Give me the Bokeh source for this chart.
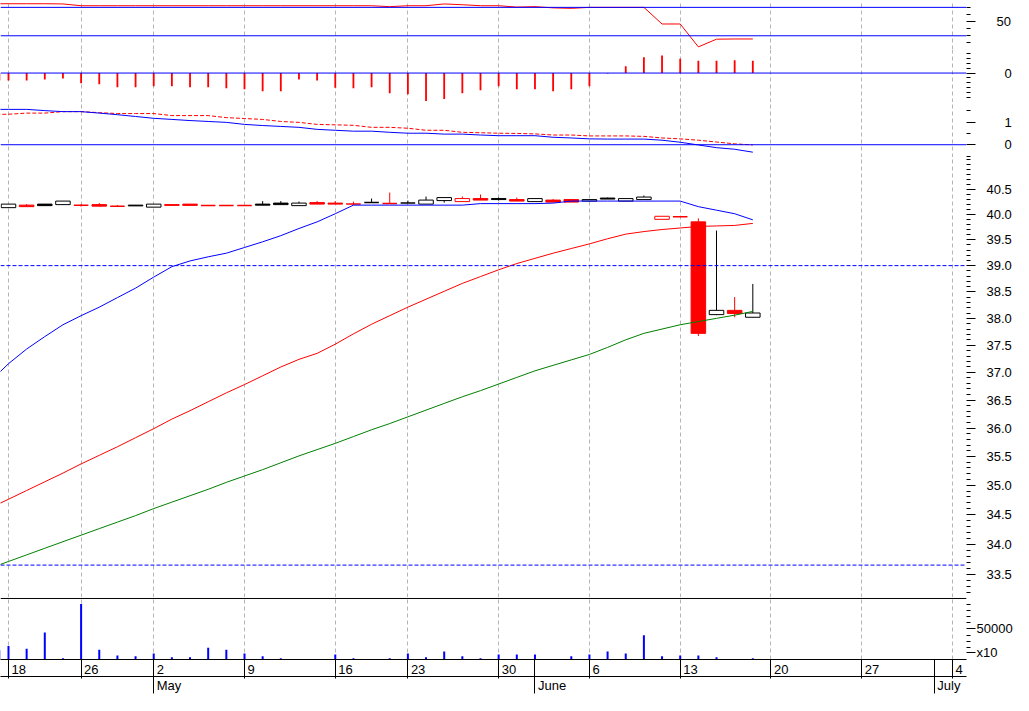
import numpy as np
from bokeh.plotting import figure
from bokeh.layouts import column
from bokeh.models import (Range1d, LinearAxis, LogAxis, FixedTicker, Span,
                          NumeralTickFormatter, ColumnDataSource)
from bokeh.embed import file_html
from bokeh.resources import INLINE

# ---------------- data ----------------
# trading-day index: -1 = Fri 15 Apr 2011 (just left of view), 0 = Mon 18 Apr ... 41 = Fri 17 Jun 2011
day_index = list(range(-1, 42))

open_ = [40.15, 40.13, 40.18, 40.20, 40.19, 40.18, 40.19, 40.16, 40.18, 40.14,
         40.19, 40.20, 40.175, 40.175, 40.175, 40.20, 40.22, 40.17, 40.23, 40.22,
         40.20, 40.23, 40.21, 40.22, 40.20, 40.27, 40.25, 40.31, 40.31, 40.29,
         40.25, 40.28, 40.29, 40.26, 40.32, 40.26, 40.29, 39.90, 39.95, 39.85,
         38.07, 38.15, 38.02]
high = [40.17, 40.20, 40.20, 40.20, 40.26, 40.20, 40.22, 40.18, 40.18, 40.20,
        40.20, 40.20, 40.175, 40.175, 40.175, 40.26, 40.26, 40.25, 40.26, 40.26,
        40.25, 40.31, 40.43, 40.27, 40.35, 40.33, 40.35, 40.39, 40.33, 40.33,
        40.31, 40.30, 40.29, 40.29, 40.33, 40.31, 40.37, 39.96, 39.95, 39.92,
        39.68, 38.40, 38.65]
low = [40.13, 40.13, 40.15, 40.17, 40.19, 40.15, 40.16, 40.16, 40.165, 40.14,
       40.175, 40.175, 40.175, 40.175, 40.175, 40.18, 40.19, 40.17, 40.20, 40.20,
       40.18, 40.23, 40.21, 40.22, 40.20, 40.23, 40.25, 40.28, 40.27, 40.26,
       40.25, 40.24, 40.24, 40.26, 40.30, 40.26, 40.29, 39.90, 39.95, 37.67,
       38.06, 38.02, 38.02]
close = [40.15, 40.20, 40.15, 40.17, 40.26, 40.18, 40.16, 40.16, 40.165, 40.20,
         40.175, 40.175, 40.175, 40.175, 40.175, 40.18, 40.19, 40.22, 40.20, 40.20,
         40.20, 40.23, 40.21, 40.22, 40.28, 40.33, 40.31, 40.28, 40.29, 40.26,
         40.31, 40.24, 40.24, 40.29, 40.30, 40.31, 40.34, 39.96, 39.95, 37.72,
         38.15, 38.09, 38.10]

ma_fast = [36.84, 37.16, 37.43, 37.66, 37.88, 38.05, 38.21, 38.39, 38.57, 38.78,
           38.98, 39.09, 39.17, 39.24, 39.35, 39.46, 39.58, 39.72, 39.85, 40.01,
           40.18, 40.18, 40.18, 40.18, 40.18, 40.18, 40.18, 40.21, 40.21, 40.21,
           40.21, 40.22, 40.26, 40.26, 40.26, 40.26, 40.26, 40.26, 40.26, 40.15,
           40.08, 40.01, 39.89]
ma_mid = [34.61, 34.76, 34.91, 35.06, 35.21, 35.37, 35.52, 35.67, 35.83, 35.99,
          36.16, 36.31, 36.47, 36.63, 36.78, 36.94, 37.10, 37.24, 37.35, 37.52,
          37.71, 37.89, 38.05, 38.21, 38.36, 38.51, 38.66, 38.79, 38.92, 39.04,
          39.14, 39.24, 39.33, 39.42, 39.52, 39.61, 39.66, 39.70, 39.73, 39.76,
          39.77, 39.78, 39.82]
ma_slow = [33.60, 33.71, 33.82, 33.93, 34.04, 34.15, 34.26, 34.37, 34.48, 34.60,
           34.71, 34.82, 34.93, 35.05, 35.16, 35.27, 35.39, 35.51, 35.62, 35.73,
           35.85, 35.97, 36.08, 36.20, 36.32, 36.44, 36.56, 36.67, 36.79, 36.91,
           37.03, 37.13, 37.23, 37.33, 37.46, 37.60, 37.72, 37.80, 37.88, 37.94,
           38.00, 38.06, 38.13]

rsi = [75.1, 75.1, 75.1, 75.1, 74.8, 72.3, 72.3, 72.3, 72.3, 72.3,
       72.3, 72.3, 72.3, 72.3, 72.3, 72.3, 72.3, 72.3, 72.3, 72.3,
       72.3, 72.3, 71.0, 72.3, 72.3, 74.8, 73.7, 72.3, 72.3, 70.4,
       71.0, 69.3, 68.6, 70.0, 70.0, 70.0, 70.0, 46.6, 46.6, 14.4,
       25.2, 25.5, 25.5]

macd = [1.565, 1.565, 1.565, 1.51, 1.465, 1.465, 1.40, 1.33, 1.25, 1.17,
        1.12, 1.07, 1.03, 0.99, 0.90, 0.85, 0.81, 0.77, 0.68, 0.64,
        0.60, 0.60, 0.55, 0.51, 0.51, 0.47, 0.47, 0.43, 0.40, 0.40,
        0.40, 0.33, 0.30, 0.26, 0.25, 0.25, 0.25, 0.20, 0.11, -0.01,
        -0.13, -0.20, -0.33]
macd_signal = [1.34, 1.35, 1.40, 1.40, 1.465, 1.465, 1.42, 1.38, 1.38, 1.38,
               1.29, 1.29, 1.29, 1.20, 1.16, 1.12, 1.03, 0.99, 0.90, 0.88,
               0.86, 0.77, 0.77, 0.73, 0.64, 0.64, 0.55, 0.53, 0.51, 0.50,
               0.48, 0.43, 0.43, 0.39, 0.39, 0.39, 0.37, 0.30, 0.26, 0.20,
               0.12, 0.04, -0.01]
histogram = [-0.015, -0.015, -0.015, -0.013, -0.011, -0.021, -0.023, -0.029, -0.029, -0.027,
             -0.027, -0.029, -0.029, -0.031, -0.033, -0.037, -0.037, -0.013, -0.015, -0.030,
             -0.031, -0.029, -0.041, -0.043, -0.057, -0.053, -0.041, -0.035, -0.027, -0.033,
             -0.033, -0.037, -0.033, -0.027, -0.001, 0.014, 0.032, 0.036, 0.029, 0.025,
             0.025, 0.026, 0.025]

volume = [15000, 22300, 17700, 44200, 2000, 91100, 16100, 6700, 5200, 9800,
          3600, 3600, 19200, 16100, 9800, 5200, 2000, 0, 0, 8300,
          2000, 0, 2000, 9800, 3600, 13000, 5200, 2000, 8300, 8300,
          8300, 0, 5200, 8300, 13000, 9800, 39600, 5200, 6700, 6700,
          3600, 0, 2000]
volume_multiplier_label = "x10"

# axis labels (first session of each week / month, as trading-day index)
week_labels = ["18", "26", "2", "9", "16", "23", "30", "6", "13", "20", "27", "4"]
week_days = [0, 4, 8, 13, 18, 22, 27, 32, 37, 42, 47, 52]
month_labels = ["May", "June", "July"]
month_days = [8, 29, 51]

price_levels = [39.0, 33.65]
rsi_levels = [70, 30]

# ---------------- style / layout ----------------
FONT = "Liberation Sans"
RED, BLUE, GREEN, BLACK = "#ff0000", "#0000ff", "#008000", "#000000"
GRID = "#b4b4b4"
FW = 966          # frame width
RB = 47           # right border for axes
X0, X1 = -0.44, 52.77
PX = FW / (X1 - X0)
BODY_W = 0.8
TICK_OUT = 9

x_range = Range1d(X0, X1)


def make_fig(fh, y_range, log=False):
    p = figure(frame_width=FW, frame_height=fh, x_range=x_range, y_range=y_range,
               y_axis_type="log" if log else "linear",
               x_axis_location=None, y_axis_location=None,
               toolbar_location=None, output_backend="svg",
               min_border_left=0, min_border_right=RB, min_border_top=0, min_border_bottom=0,
               outline_line_color=None, background_fill_color="white",
               border_fill_color="white")
    p.xgrid.ticker = FixedTicker(ticks=week_days)
    p.xgrid.grid_line_color = GRID
    p.xgrid.grid_line_dash = "4 3"
    p.ygrid.visible = False
    return p


def right_axis(p, major, minor, standoff, log=False, fmt=None, overrides=None):
    cls = LogAxis if log else LinearAxis
    ax = cls(ticker=FixedTicker(ticks=major, minor_ticks=minor),
             axis_line_color=None, major_tick_in=0, major_tick_out=TICK_OUT,
             minor_tick_in=0, minor_tick_out=4,
             major_tick_line_color=BLACK, minor_tick_line_color=BLACK,
             major_label_standoff=standoff, major_label_text_font=FONT,
             major_label_text_font_size="13px", major_label_text_color=BLACK)
    if fmt is not None:
        ax.formatter = fmt
    if overrides:
        ax.major_label_overrides = overrides
    p.add_layout(ax, "right")


def hspan(p, loc, color, dash="solid"):
    p.add_layout(Span(location=loc, dimension="width", line_color=color,
                      line_width=1, line_dash=dash))


idx = np.array(day_index, dtype=float)

# ---- panel 1: RSI ----
p1 = make_fig(49, Range1d(10.69, 79.66))
for lv in rsi_levels:
    hspan(p1, lv, BLUE)
p1.line(idx, rsi, line_color=RED, line_width=1)
right_axis(p1, [50], [20, 30, 40, 60, 70], 21)

# ---- panel 2: histogram ----
p2 = make_fig(53, Range1d(-0.060, 0.048))
hspan(p2, 0, BLUE)
p2.vbar(x=idx, top=histogram, bottom=0, width=0.1, fill_color=RED, line_color=None)
right_axis(p2, [0], [-0.05, -0.04, -0.03, -0.02, -0.01, 0.01, 0.02, 0.03, 0.04], 29)

# ---- panel 3: MACD lines ----
p3 = make_fig(55, Range1d(-0.5652, 1.8696))
hspan(p3, 0, BLUE)
p3.line(idx, macd_signal, line_color=RED, line_width=1, line_dash="4 2")
p3.line(idx, macd, line_color=BLUE, line_width=1)
right_axis(p3, [0, 1], [-0.5, 0.5, 1.5], 29)

# ---- main price panel (log scale) ----
pm = make_fig(440, Range1d(33.117, 41.134), log=True)
o = np.array(open_)
h = np.array(high)
lo = np.array(low)
c = np.array(close)
prev_c = np.r_[np.nan, c[:-1]]
col = np.where(c <= prev_c, RED, BLACK)
fill = np.where(c < o, col, "white")
has_body = c != o

wick_src = ColumnDataSource(dict(x=idx, lo=lo, hi=h, col=col.tolist()))
body_src = ColumnDataSource(dict(x=idx[has_body],
                                 top=np.maximum(o, c)[has_body],
                                 bottom=np.minimum(o, c)[has_body],
                                 col=col[has_body].tolist(),
                                 fill=fill[has_body].tolist()))
flat_src = ColumnDataSource(dict(x0=idx[~has_body] - BODY_W / 2,
                                 x1=idx[~has_body] + BODY_W / 2,
                                 y=c[~has_body], col=col[~has_body].tolist()))

pm.segment(x0="x", y0="lo", x1="x", y1="hi", line_color="col", line_width=1, source=wick_src)
pm.vbar(x="x", top="top", bottom="bottom", width=BODY_W, fill_color="fill",
        line_color="col", line_width=1, source=body_src)
pm.segment(x0="x0", y0="y", x1="x1", y1="y", line_color="col", line_width=1.5, source=flat_src)

pm.line(idx, ma_slow, line_color=GREEN, line_width=1)
pm.line(idx, ma_mid, line_color=RED, line_width=1)
pm.line(idx, ma_fast, line_color=BLUE, line_width=1)
for lv in price_levels:
    hspan(pm, lv, BLUE, "4 2")

price_major = [round(33.5 + 0.5 * i, 1) for i in range(15)]
price_minor = [round(v, 1) for v in np.arange(33.2, 41.15, 0.1)
               if round(v, 1) not in price_major]
right_axis(pm, price_major, price_minor, 11, log=True, fmt=NumeralTickFormatter(format="0.0"))

# ---- volume panel ----
pv = make_fig(62, Range1d(0, 101600))
pv.vbar(x=idx, top=volume, bottom=0, width=0.11, fill_color=BLUE, line_color=None)
hspan(pv, 100000, BLACK)
right_axis(pv, [11000, 50000], [20000, 30000, 40000, 60000, 70000, 80000, 90000], 1,
           fmt=NumeralTickFormatter(format="0"),
           overrides={11000: volume_multiplier_label})

# date axes (labels sit just right of each separator line)
CHAR_W = {"M": 10.8, "a": 7.2, "y": 6.5, "J": 6.5, "u": 7.2, "n": 7.2, "e": 7.2, "l": 2.9}


def text_w(t):
    return sum(CHAR_W.get(ch, 7.23) for ch in t)


def lab_pos(d, t):
    return round(d + (3 + text_w(t) / 2) / PX, 4)


day_lab_pos = [lab_pos(d, t) for d, t in zip(week_days, week_labels)]
day_lines = sorted(set(week_days) | set(month_days))
day_axis = LinearAxis(ticker=FixedTicker(ticks=day_lab_pos, minor_ticks=day_lines),
                      major_label_overrides=dict(zip(day_lab_pos, week_labels)),
                      major_tick_in=0, major_tick_out=0, major_tick_line_color=None,
                      minor_tick_in=0, minor_tick_out=19, minor_tick_line_color=BLACK,
                      axis_line_color=BLACK, major_label_standoff=-14,
                      major_label_text_font=FONT, major_label_text_font_size="13px",
                      major_label_text_color=BLACK)
mon_lab_pos = [lab_pos(d, t) for d, t in zip(month_days, month_labels)]
mon_axis = LinearAxis(ticker=FixedTicker(ticks=mon_lab_pos, minor_ticks=month_days),
                      major_label_overrides=dict(zip(mon_lab_pos, month_labels)),
                      major_tick_in=0, major_tick_out=0, major_tick_line_color=None,
                      minor_tick_in=0, minor_tick_out=17, minor_tick_line_color=BLACK,
                      axis_line_color=BLACK, major_label_standoff=-16,
                      major_label_text_font=FONT, major_label_text_font_size="13px",
                      major_label_text_color=BLACK)
pv.add_layout(day_axis, "below")
pv.add_layout(mon_axis, "below")

layout = column(p1, p2, p3, pm, pv, spacing=0)
open("out.html", "w").write(file_html(layout, INLINE))
